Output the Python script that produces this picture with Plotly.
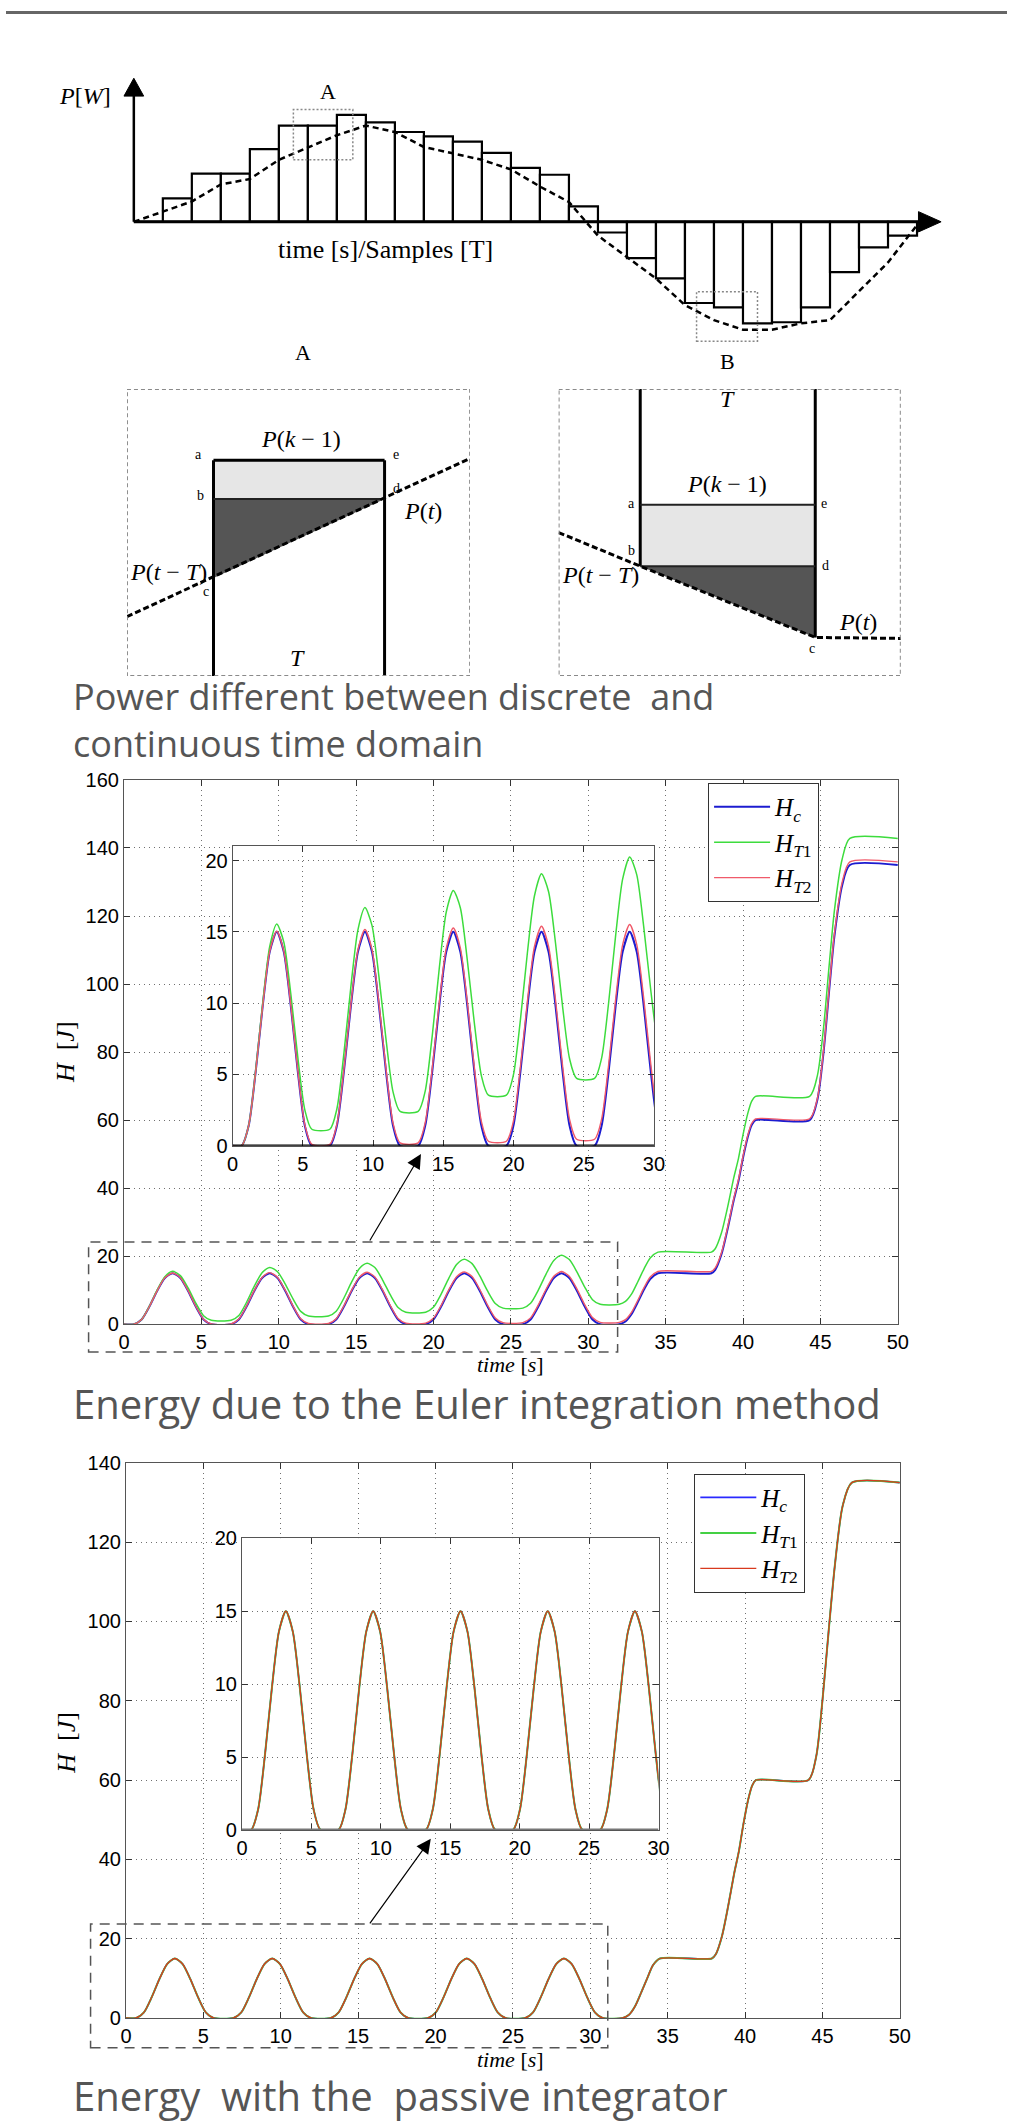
import plotly.graph_objects as go

W, H = 1018, 2121


def fx(x):
    return x / W


def fy(y):
    return 1 - y / H


SERIF = "Liberation Serif"
SANS = "Liberation Sans"
CAP = "Open Sans"

# ---------------- data: top schematic ----------------
slot_centers = [0.5, 1.5, 2.5, 3.5, 4.5, 5.5, 6.5, 7.5, 8.5, 9.5, 10.5, 11.5, 12.5, 13.5,
                14.5, 15.5, 16.5, 17.5, 18.5, 19.5, 20.5, 21.5, 22.5, 23.5, 24.5, 25.5, 26.5]
power_samples = [0, 0.22, 0.45, 0.45, 0.68, 0.90, 0.90, 1.0, 0.93, 0.84, 0.80, 0.75, 0.645,
                 0.505, 0.44, 0.145, -0.10, -0.34, -0.53, -0.76, -0.80, -0.95, -0.94, -0.80,
                 -0.47, -0.24, -0.13]
cont_t = [0, 2.0, 3.0, 4.0, 5.0, 7.0, 8.0, 9.0, 10.0, 11.0, 12.0, 13.0, 14.0, 15.0, 16.0,
          17.0, 18.0, 19.0, 20.0, 21.0, 22.0, 23.0, 24.0, 25.0, 26.0, 27.0]
cont_p = [0, 0.19, 0.35, 0.40, 0.58, 0.81, 0.90, 0.84, 0.70, 0.64, 0.58, 0.49, 0.33, 0.185,
          -0.13, -0.33, -0.53, -0.78, -0.92, -1.01, -1.01, -0.95, -0.92, -0.65, -0.38, -0.03]

# inset A (local pixel-like coordinates, y downward)
a_left_x = [88, 88]
a_left_y = [72, 290]
a_right_x = [262, 262]
a_right_y = [72, 290]
a_top_x = [88, 262]
a_top_y = [72, 72]
a_mid_x = [88, 262]
a_mid_y = [111, 111]
a_light_x = [88, 262, 262, 88, 88]
a_light_y = [72, 72, 111, 111, 72]
a_dark_x = [88, 262, 88, 88]
a_dark_y = [111, 111, 191, 111]
a_cont_x = [0, 349]
a_cont_y = [230, 70]

# inset B
b_left_x = [83, 83]
b_left_y = [0, 179]
b_right_x = [261, 261]
b_right_y = [0, 251]
b_top_x = [83, 261]
b_top_y = [117, 117]
b_mid_x = [83, 261]
b_mid_y = [179, 179]
b_light_x = [83, 261, 261, 83, 83]
b_light_y = [117, 117, 179, 179, 117]
b_dark_x = [83, 261, 261, 83]
b_dark_y = [179, 179, 251, 179]
b_cont_x = [0, 83, 261, 348]
b_cont_y = [145, 179, 251, 252]

# ---------------- data: energy curves ----------------
t_euler = [0,
           0.64, 1.14, 1.64, 2.14, 2.64, 3.14, 3.64, 4.14, 4.64, 5.14, 5.64,
           6.92, 7.42, 7.92, 8.42, 8.92, 9.42, 9.92, 10.42, 10.92, 11.42, 11.92,
           13.21, 13.71, 14.21, 14.71, 15.21, 15.71, 16.21, 16.71, 17.21, 17.71, 18.21,
           19.49, 19.99, 20.49, 20.99, 21.49, 21.99, 22.49, 22.99, 23.49, 23.99, 24.49,
           25.77, 26.27, 26.77, 27.27, 27.77, 28.27, 28.77, 29.27, 29.77, 30.27, 30.77,
           32.0, 32.4, 32.8, 33.2, 33.6, 34.0, 34.5,
           37.95, 38.2, 38.6, 39.0, 39.4, 39.7, 40.0, 40.3, 40.55, 40.8,
           44.3, 44.8, 45.2, 45.55, 45.9, 46.4, 46.9,
           50]

hc_euler = [0,
            0, 1.4, 5.2, 9.8, 13.6, 15, 13.6, 9.8, 5.2, 1.4, 0,
            0, 1.4, 5.2, 9.8, 13.6, 15, 13.6, 9.8, 5.2, 1.4, 0,
            0, 1.4, 5.2, 9.8, 13.6, 15, 13.6, 9.8, 5.2, 1.4, 0,
            0, 1.4, 5.2, 9.8, 13.6, 15, 13.6, 9.8, 5.2, 1.4, 0,
            0, 1.4, 5.2, 9.8, 13.6, 15, 13.6, 9.8, 5.2, 1.4, 0,
            0, 0.8, 3.0, 6.5, 10.2, 13.3, 15,
            15, 16, 20.5, 28, 36.5, 42, 49, 55, 58.5, 60,
            60, 66, 80, 97.5, 114, 129, 135,
            135]

ht1_euler = [0,
             0, 1.42, 5.3, 10.02, 13.98, 15.55, 14.3, 10.66, 6.2, 2.52, 1.16,
             1.16, 2.58, 6.46, 11.18, 15.14, 16.7, 15.45, 11.82, 7.46, 3.78, 2.41,
             2.41, 3.83, 7.71, 12.43, 16.39, 17.9, 16.69, 13.0, 8.6, 4.92, 3.55,
             3.55, 4.97, 8.85, 13.57, 17.53, 19.07, 17.83, 14.2, 9.78, 6.1, 4.73,
             4.73, 6.15, 10.03, 14.75, 18.71, 20.25, 19.01, 15.35, 10.92, 7.22, 5.85,
             5.85, 6.7, 8.9, 12.5, 16.3, 19.5, 21.2,
             21.2, 22.2, 26.8, 34.4, 43.1, 48.7, 55.8, 61.9, 65.5, 67.0,
             67.0, 73.1, 87.2, 104.9, 121.6, 136.7, 142.8,
             142.8]

ht2_euler = [0,
             0, 1.41, 5.22, 9.83, 13.64, 15.05, 13.66, 9.87, 5.28, 1.49, 0.1,
             0.1, 1.51, 5.32, 9.93, 13.74, 15.16, 13.77, 9.98, 5.39, 1.6, 0.21,
             0.21, 1.62, 5.43, 10.04, 13.85, 15.27, 13.88, 10.09, 5.5, 1.71, 0.32,
             0.32, 1.73, 5.55, 10.16, 13.97, 15.39, 14.0, 10.22, 5.63, 1.85, 0.46,
             0.46, 1.87, 5.68, 10.29, 14.1, 15.51, 14.12, 10.33, 5.74, 1.95, 0.56,
             0.56, 1.36, 3.56, 7.06, 10.76, 13.86, 15.56,
             15.56, 16.56, 21.0, 28.5, 37.0, 42.5, 49.5, 55.5, 59.0, 60.4,
             60.4, 66.4, 80.6, 98.2, 114.8, 129.9, 135.9,
             135.9]

t_passive = [0,
             0.66, 1.16, 1.66, 2.16, 2.66, 3.16, 3.66, 4.16, 4.66, 5.16, 5.66,
             6.95, 7.45, 7.95, 8.45, 8.95, 9.45, 9.95, 10.45, 10.95, 11.45, 11.95,
             13.24, 13.74, 14.24, 14.74, 15.24, 15.74, 16.24, 16.74, 17.24, 17.74, 18.24,
             19.52, 20.02, 20.52, 21.02, 21.52, 22.02, 22.52, 23.02, 23.52, 24.02, 24.52,
             25.8, 26.3, 26.8, 27.3, 27.8, 28.3, 28.8, 29.3, 29.8, 30.3, 30.8,
             32.1, 32.5, 32.9, 33.3, 33.7, 34.05, 34.5,
             37.85, 38.1, 38.5, 38.9, 39.3, 39.6, 39.9, 40.2, 40.45, 40.7,
             44.1, 44.6, 45.0, 45.4, 45.8, 46.3, 46.9,
             50]

h_passive = [0,
             0, 1.4, 5.2, 9.8, 13.6, 15, 13.6, 9.8, 5.2, 1.4, 0,
             0, 1.4, 5.2, 9.8, 13.6, 15, 13.6, 9.8, 5.2, 1.4, 0,
             0, 1.4, 5.2, 9.8, 13.6, 15, 13.6, 9.8, 5.2, 1.4, 0,
             0, 1.4, 5.2, 9.8, 13.6, 15, 13.6, 9.8, 5.2, 1.4, 0,
             0, 1.4, 5.2, 9.8, 13.6, 15, 13.6, 9.8, 5.2, 1.4, 0,
             0, 0.8, 3.0, 6.5, 10.2, 13.3, 15,
             15, 16, 20.5, 28, 36.5, 42, 49, 55, 58.5, 60,
             60, 66, 80, 97.5, 114, 129, 135,
             135]

main_xticks = [0, 5, 10, 15, 20, 25, 30, 35, 40, 45, 50]
euler_yticks = [0, 20, 40, 60, 80, 100, 120, 140, 160]
passive_yticks = [0, 20, 40, 60, 80, 100, 120, 140]
inset_xticks = [0, 5, 10, 15, 20, 25, 30]
inset_yticks = [0, 5, 10, 15, 20]

series_names = ["<i>H</i><sub><i>c</i></sub>", "<i>H</i><sub><i>T</i>1</sub>",
                "<i>H</i><sub><i>T</i>2</sub>"]
euler_colors = ["#1c1cd0", "#3ddc3d", "#f05a6a"]
passive_colors = ["#2a2aff", "#44d044", "#d83a1e"]

fig = go.Figure()

# ---------------- top schematic ----------------
fig.add_trace(go.Bar(x=slot_centers, y=power_samples, width=1, xaxis="x", yaxis="y",
                     marker=dict(color="white", line=dict(color="black", width=2.2)),
                     showlegend=False, hoverinfo="skip"))
fig.add_trace(go.Scatter(x=cont_t, y=cont_p, mode="lines", xaxis="x", yaxis="y",
                         line=dict(color="black", width=2.5, dash="6px,4px"),
                         showlegend=False, hoverinfo="skip"))


def line(xs, ys, ax, color="black", width=2.5, dash=None, fill=None, fillcolor=None):
    fig.add_trace(go.Scatter(x=xs, y=ys, mode="lines", xaxis=ax[0], yaxis=ax[1],
                             line=dict(color=color, width=width, dash=dash),
                             fill=fill, fillcolor=fillcolor,
                             showlegend=False, hoverinfo="skip"))


# inset A
line(a_light_x, a_light_y, ("x2", "y2"), width=0, fill="toself", fillcolor="#e6e6e6")
line(a_dark_x, a_dark_y, ("x2", "y2"), width=0, fill="toself", fillcolor="#555555")
line(a_left_x, a_left_y, ("x2", "y2"), width=3)
line(a_right_x, a_right_y, ("x2", "y2"), width=3)
line(a_top_x, a_top_y, ("x2", "y2"), width=3)
line(a_mid_x, a_mid_y, ("x2", "y2"), color="#222", width=2)
line(a_cont_x, a_cont_y, ("x2", "y2"), width=3, dash="6px,3px")
# inset B
line(b_light_x, b_light_y, ("x3", "y3"), width=0, fill="toself", fillcolor="#e6e6e6")
line(b_dark_x, b_dark_y, ("x3", "y3"), width=0, fill="toself", fillcolor="#555555")
line(b_left_x, b_left_y, ("x3", "y3"), width=3)
line(b_right_x, b_right_y, ("x3", "y3"), width=3)
line(b_top_x, b_top_y, ("x3", "y3"), color="#222", width=2)
line(b_mid_x, b_mid_y, ("x3", "y3"), color="#222", width=2)
line(b_cont_x, b_cont_y, ("x3", "y3"), width=3, dash="6px,3px")

# ---------------- energy charts ----------------
euler_series = [hc_euler, ht1_euler, ht2_euler]
widths_e = [2.0, 1.5, 1.4]
for i in range(3):
    fig.add_trace(go.Scatter(x=t_euler, y=euler_series[i], mode="lines", name=series_names[i],
                             xaxis="x4", yaxis="y4", legend="legend",
                             line=dict(color=euler_colors[i], width=widths_e[i],
                                       shape="spline", smoothing=0.7),
                             hoverinfo="skip"))
for i in range(3):
    fig.add_trace(go.Scatter(x=t_euler, y=euler_series[i], mode="lines", showlegend=False,
                             xaxis="x5", yaxis="y5",
                             line=dict(color=euler_colors[i], width=widths_e[i],
                                       shape="spline", smoothing=0.7),
                             hoverinfo="skip"))

widths_p = [1.6, 2.0, 1.3]
for i in range(3):
    fig.add_trace(go.Scatter(x=t_passive, y=h_passive, mode="lines", name=series_names[i],
                             xaxis="x6", yaxis="y6", legend="legend2",
                             line=dict(color=passive_colors[i], width=widths_p[i],
                                       shape="spline", smoothing=0.7),
                             hoverinfo="skip"))
for i in range(3):
    fig.add_trace(go.Scatter(x=t_passive, y=h_passive, mode="lines", showlegend=False,
                             xaxis="x7", yaxis="y7",
                             line=dict(color=passive_colors[i], width=widths_p[i],
                                       shape="spline", smoothing=0.7),
                             hoverinfo="skip"))

# ---------------- axes ----------------
slot_px = 29.5
unit_px = 108.0
top_xr = [-30 / slot_px, -30 / slot_px + 860 / slot_px]
top_yr = [-(350 - 213) / unit_px, (213 - 60) / unit_px]

hidden = dict(visible=False, showgrid=False, zeroline=False, fixedrange=True)

tickfont = dict(family=SANS, size=20, color="black")


def chart_axis(dom, rng, ticks, anchor, grid=True):
    return dict(domain=dom, range=rng, anchor=anchor, tickvals=ticks,
                ticktext=[str(v) for v in ticks], ticks="inside", ticklen=6,
                tickcolor="#333", tickwidth=1, showline=True, linecolor="#555",
                linewidth=1, mirror="ticks", showgrid=grid, gridcolor="#707070",
                griddash="1px,4px", gridwidth=1, zeroline=False, tickfont=tickfont,
                fixedrange=True)


legend_font = dict(family=SERIF, size=25, color="black")
layout = dict(
    width=W, height=H, margin=dict(l=0, r=0, t=0, b=0),
    paper_bgcolor="white", plot_bgcolor="white",
    xaxis=dict(hidden, domain=[fx(100), fx(960)], range=top_xr, anchor="y"),
    yaxis=dict(hidden, domain=[fy(350), fy(60)], range=top_yr, anchor="x"),
    xaxis2=dict(hidden, domain=[fx(123), fx(472)], range=[0, 349], anchor="y2"),
    yaxis2=dict(hidden, domain=[fy(672), fy(382)], range=[290, 0], anchor="x2"),
    xaxis3=dict(hidden, domain=[fx(562), fx(910)], range=[0, 348], anchor="y3"),
    yaxis3=dict(hidden, domain=[fy(672), fy(382)], range=[290, 0], anchor="x3"),
    xaxis4=chart_axis([fx(120), fx(907)], [0, 50], main_xticks, "y4"),
    yaxis4=chart_axis([fy(1327), fy(777)], [0, 160], euler_yticks, "x4"),
    xaxis5=chart_axis([fx(230.5), fx(659)], [0, 30], inset_xticks, "y5"),
    yaxis5=chart_axis([fy(1146.7), fy(844)], [0, 21], inset_yticks, "x5"),
    xaxis6=chart_axis([fx(122), fx(909)], [0, 50], main_xticks, "y6"),
    yaxis6=chart_axis([fy(2028), fy(1467)], [0, 140], passive_yticks, "x6"),
    xaxis7=chart_axis([fx(240), fx(663.6)], [0, 30], inset_xticks, "y7"),
    yaxis7=chart_axis([fy(1838), fy(1543.3)], [0, 20], inset_yticks, "x7"),
    legend=dict(x=fx(714), y=fy(780), xanchor="left", yanchor="top",
                bgcolor="white", bordercolor="#333", borderwidth=1,
                font=legend_font, itemwidth=56, tracegroupgap=0),
    legend2=dict(x=fx(700), y=fy(1478), xanchor="left", yanchor="top",
                 bgcolor="white", bordercolor="#333", borderwidth=1,
                 font=legend_font, itemwidth=56, tracegroupgap=0),
)
fig.update_layout(**layout)

# ---------------- shapes ----------------
shapes = []
# top border bar
shapes.append(dict(type="rect", xref="paper", yref="paper", x0=0, x1=1, y0=fy(3), y1=1,
                   fillcolor="#666", line=dict(width=0), layer="above"))
# schematic axes
shapes.append(dict(type="line", xref="x", yref="y", x0=0, x1=0, y0=0, y1=1.2,
                   line=dict(color="black", width=2.5), layer="above"))
shapes.append(dict(type="path", xref="x", yref="y",
                   path="M -0.34,1.176 L 0.34,1.176 L 0,1.343 Z",
                   fillcolor="black", line=dict(color="black", width=1), layer="above"))
shapes.append(dict(type="line", xref="x", yref="y", x0=0, x1=27.1, y0=0, y1=0,
                   line=dict(color="black", width=3), layer="above"))
shapes.append(dict(type="path", xref="x", yref="y",
                   path="M 27.05,-0.095 L 27.05,0.095 L 27.83,0 Z",
                   fillcolor="black", line=dict(color="black", width=1), layer="above"))
# zoom boxes A and B
shapes.append(dict(type="rect", xref="x", yref="y", x0=5.5, x1=7.55, y0=0.58, y1=1.05,
                   line=dict(color="#888", width=1.5, dash="2px,2px"), layer="above"))
shapes.append(dict(type="rect", xref="x", yref="y", x0=19.4, x1=21.5, y0=-1.117, y1=-0.654,
                   line=dict(color="#888", width=1.5, dash="2px,2px"), layer="above"))
# inset frames
for ax in (("x2", "y2", 349), ("x3", "y3", 348)):
    shapes.append(dict(type="rect", xref=ax[0], yref=ax[1], x0=0, x1=ax[2], y0=0, y1=290,
                       line=dict(color="#8a8a8a", width=2, dash="4px,3px"), layer="above"))
# white backgrounds for chart insets
shapes.append(dict(type="rect", xref="x5", yref="y5", x0=0, x1=30, y0=0, y1=21,
                   fillcolor="white", line=dict(width=0), layer="below"))
shapes.append(dict(type="rect", xref="x7", yref="y7", x0=0, x1=30, y0=0, y1=20,
                   fillcolor="white", line=dict(width=0), layer="below"))
# thick inset bottom axes
shapes.append(dict(type="line", xref="x5", yref="y5", x0=0, x1=30, y0=0, y1=0,
                   line=dict(color="black", width=2.5), layer="above"))
shapes.append(dict(type="line", xref="x7", yref="y7", x0=0, x1=30, y0=0, y1=0,
                   line=dict(color="#777", width=3), layer="above"))
# dashed zoom rectangles
shapes.append(dict(type="rect", xref="paper", yref="paper", x0=fx(84), x1=fx(622),
                   y0=fy(1355), y1=fy(1244),
                   line=dict(color="#555", width=1.5, dash="10px,7px"), layer="above"))
shapes.append(dict(type="rect", xref="paper", yref="paper", x0=fx(86), x1=fx(612),
                   y0=fy(2058), y1=fy(1933),
                   line=dict(color="#555", width=1.5, dash="10px,7px"), layer="above"))
fig.update_layout(shapes=shapes)

# ---------------- annotations ----------------
ann = []


def text(x, y, s, size=20, family=SERIF, color="black", xanchor="center", angle=0,
         align="center"):
    ann.append(dict(x=fx(x), y=fy(y), xref="paper", yref="paper", text=s, showarrow=False,
                    xanchor=xanchor, yanchor="middle", textangle=angle, align=align,
                    font=dict(family=family, size=size, color=color)))


text(80, 86, "<i>P</i>[<i>W</i>]", 24)
text(327, 81, "A", 22)
text(386, 241, "time [s]/Samples [T]", 26)
text(302, 345, "A", 22)
text(734, 354, "B", 22)
# inset A labels
text(300, 432, "<i>P</i>(<i>k</i> − 1)", 24)
text(196, 448, "a", 14)
text(397, 448, "e", 14)
text(198, 490, "b", 14)
text(397, 483, "d", 14)
text(424, 505, "<i>P</i>(<i>t</i>)", 24)
text(165, 567, "<i>P</i>(<i>t</i> − <i>T</i>)", 24)
text(203, 587, "c", 14)
text(296, 654, "<i>T</i>", 24)
# inset B labels
text(734, 392, "<i>T</i>", 24)
text(733, 478, "<i>P</i>(<i>k</i> − 1)", 24)
text(636, 498, "a", 14)
text(832, 498, "e", 14)
text(636, 545, "b", 14)
text(833, 560, "d", 14)
text(605, 570, "<i>P</i>(<i>t</i> − <i>T</i>)", 24)
text(866, 617, "<i>P</i>(<i>t</i>)", 24)
text(820, 644, "c", 14)
# captions
text(66, 716.5, "Power different between discrete&nbsp; and<br>continuous time domain",
     36, CAP, "#555", "left", align="left")
text(66, 1407, "Energy due to the Euler integration method", 40, CAP, "#555", "left")
text(66, 2106, "Energy&nbsp; with the&nbsp; passive integrator", 40, CAP, "#555", "left")
# axis titles
text(60, 1052, "<i>H</i>&nbsp; [<i>J</i>]", 26, angle=-90)
text(513, 1368, "<i>time</i> [<i>s</i>]", 22)
text(62, 1750, "<i>H</i>&nbsp; [<i>J</i>]", 26, angle=-90)
text(513, 2070, "<i>time</i> [<i>s</i>]", 22)
# arrows from zoom boxes to insets
for head, tail in (((422, 1155), (370, 1243)), ((432, 1847), (370, 1933))):
    ann.append(dict(x=fx(head[0]), y=fy(head[1]), xref="paper", yref="paper", text="",
                    showarrow=True, ax=tail[0] - head[0], ay=tail[1] - head[1],
                    arrowhead=2, arrowsize=2.4, arrowwidth=1.2, arrowcolor="black"))
fig.update_layout(annotations=ann)

fig.write_html("out.html", config={"displayModeBar": False},
               post_script="document.body.style.margin='0px';"
                           "document.body.style.padding='0px';"
                           "document.body.style.overflow='hidden';")
